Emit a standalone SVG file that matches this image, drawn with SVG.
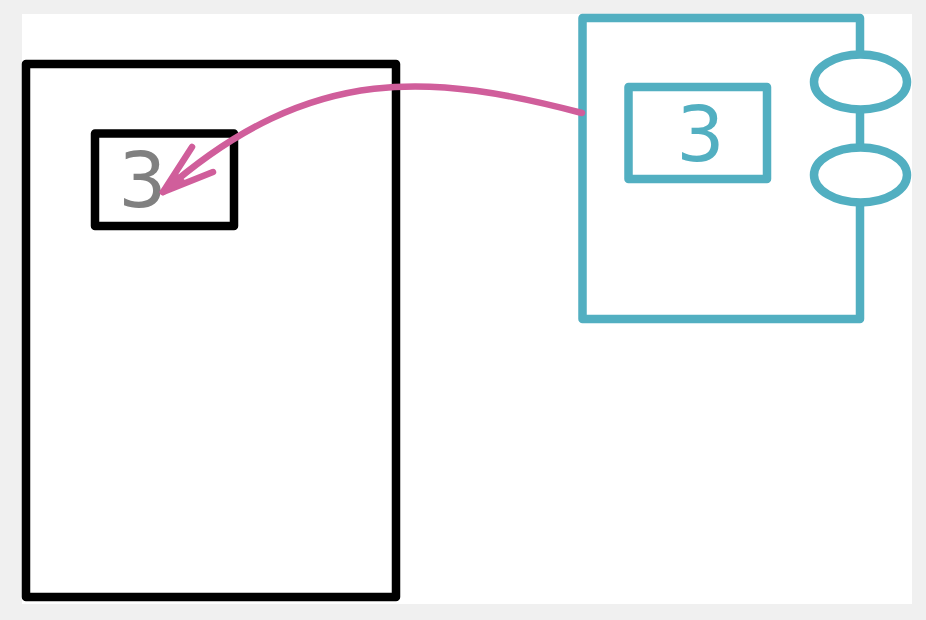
<svg xmlns="http://www.w3.org/2000/svg" width="926" height="620" viewBox="0 0 926 620">
<style>
.blk{fill:none;stroke:#000;stroke-width:8.5;stroke-linejoin:round}
.teal{fill:none;stroke:#52afc1;stroke-width:8.5;stroke-linejoin:round}
.tealf{fill:#fff;stroke:#52afc1;stroke-width:8.5}
.num{font-family:"DejaVu Sans",sans-serif;font-size:76px;text-anchor:middle}
.conn{fill:none;stroke:#d05e9b;stroke-width:6.5;stroke-linecap:round;stroke-linejoin:round}
</style>
<rect x="0" y="0" width="926" height="620" fill="#f0f0f0"/>
<rect x="22" y="14" width="890" height="590" fill="#fff"/>
<g id="container-left">
<rect class="blk" x="26" y="64" width="370" height="533"/>
</g>
<g id="node-left">
<rect class="blk" x="95" y="133.5" width="139" height="92.5"/>
<text class="num" x="142.5" y="207" fill="#808080">3</text>
</g>
<g id="container-right">
<rect class="teal" x="582.5" y="18" width="277.5" height="301"/>
<ellipse class="tealf" cx="860.5" cy="82" rx="46.5" ry="27.5"/>
<ellipse class="tealf" cx="860.5" cy="175" rx="46.5" ry="27.5"/>
</g>
<g id="node-right">
<rect class="teal" x="628.5" y="87" width="138.5" height="92"/>
<text class="num" x="700.5" y="160.5" fill="#52afc1">3</text>
</g>
<g id="connectors">
<path class="conn" d="M582,113 C436,75 313,60 163,192"/>
<path class="conn" d="M192,147 L163,192 L213,172"/>
<polygon points="163,192 176,172 188,183" fill="#d05e9b"/>
</g>
</svg>
